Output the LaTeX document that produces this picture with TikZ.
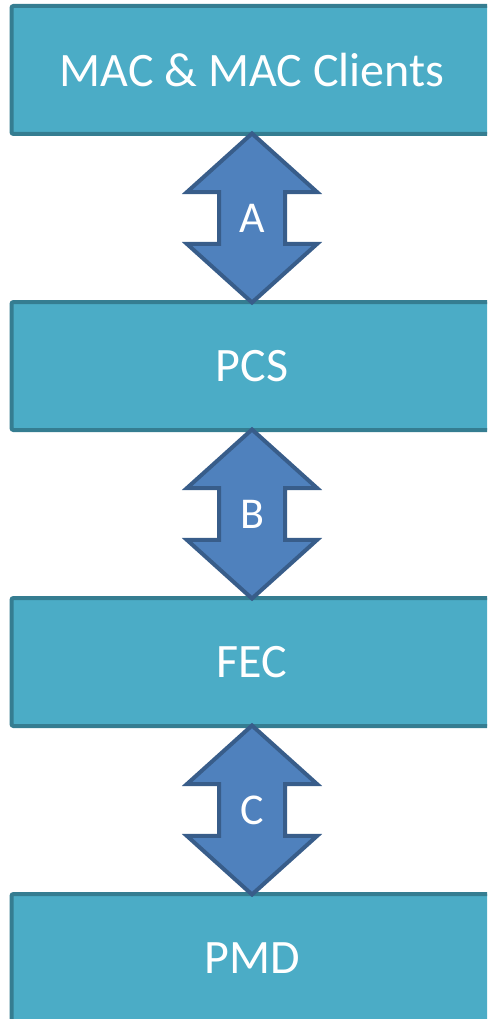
\documentclass[tikz,border=0pt]{standalone}
\usepackage{fontspec}
\setmainfont{Carlito}
\usetikzlibrary{positioning,shapes.arrows}
\definecolor{layerfill}{HTML}{4BACC6}
\definecolor{layerline}{HTML}{357D91}
\definecolor{linkfill}{HTML}{4F81BD}
\definecolor{linkline}{HTML}{385D8A}

\begin{document}
\begin{tikzpicture}[
  x=1pt, y=1pt,
  node distance=164pt,
  layer/.style={draw=layerline, fill=layerfill, line width=4pt, rounded corners=2pt,
                minimum width=481pt, minimum height=128pt, text=white,
                font=\fontsize{48}{56}\selectfont},
  link/.style={shape=double arrow, draw=linkline, fill=linkfill, line width=4pt,
               rotate=90, minimum height=169pt, minimum width=1pt,
               inner xsep=0pt, inner ysep=31pt,
               double arrow head extend=32pt, double arrow tip angle=96},
  linklabel/.style={text=white, font=\fontsize{44}{52}\selectfont}]
\useasboundingbox (0,0) rectangle (487,-1019);
\clip (0,0) rectangle (487,-1019);
\node[layer] (mac) at (252,-70) {MAC \& MAC Clients};
\node[layer, below=of mac] (pcs) {PCS};
\node[layer, below=of pcs] (fec) {FEC};
\node[layer, below=of fec] (pmd) {PMD};
% double arrows between the layers
\path (mac.south) -- (pcs.north) node[midway, link] (ab) {};
\path (pcs.south) -- (fec.north) node[midway, link] (bb) {};
\path (fec.south) -- (pmd.north) node[midway, link] (cb) {};
\node[linklabel] (la) at (ab) {A};
\node[linklabel] (lb) at (bb) {B};
\node[linklabel] (lc) at (cb) {C};
\end{tikzpicture}
\end{document}
